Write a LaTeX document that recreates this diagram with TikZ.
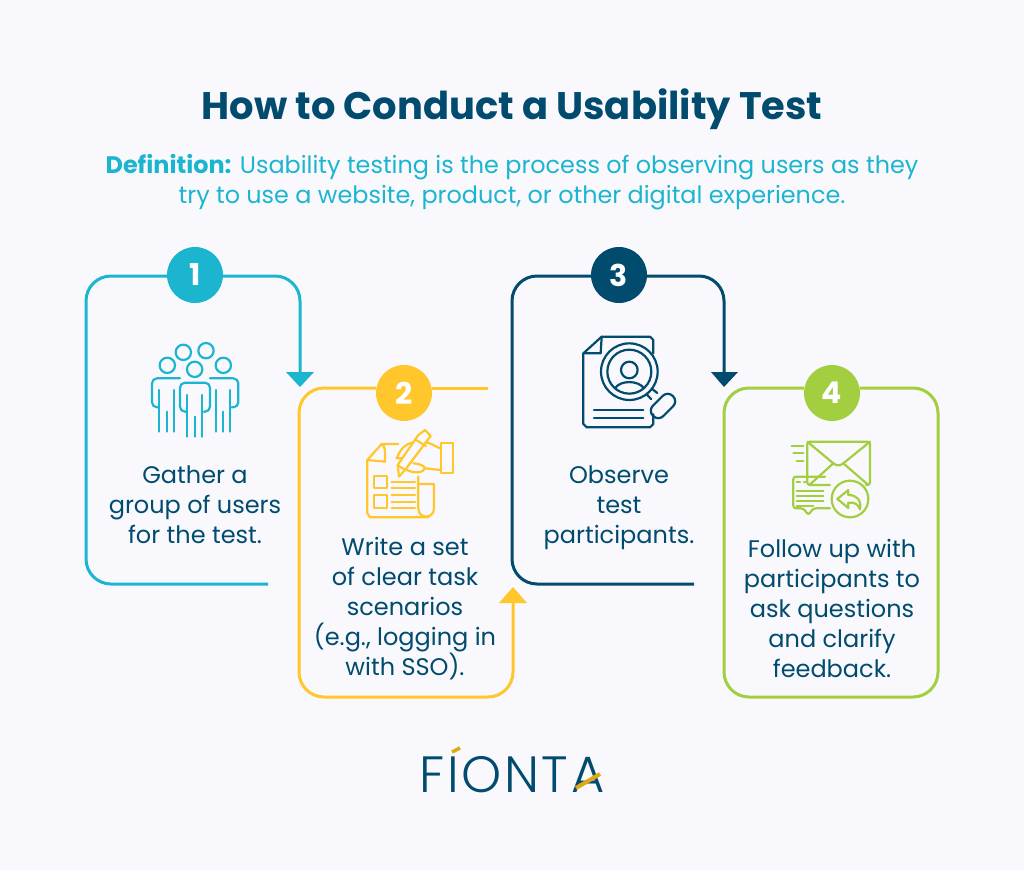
\documentclass[tikz,border=0pt]{standalone}
\usepackage{fontspec}
\setmainfont{Poppins}
\newfontfamily\logofont[LetterSpace=5]{Poppins Light}
\usetikzlibrary{arrows.meta}
\definecolor{bgc}{HTML}{F9F9FD}
\definecolor{cy}{HTML}{1CB5CF}
\definecolor{ye}{HTML}{FFC72C}
\definecolor{na}{HTML}{004B6E}
\definecolor{gr}{HTML}{A2CE3F}
\definecolor{go}{HTML}{E0A914}
\tikzset{
 x=1pt,y=-1pt,
 badge/.style={circle,fill=#1,minimum size=56pt,inner sep=0pt,text=white,font=\fontsize{30}{30}\selectfont\bfseries},
 link/.style={draw=#1,line width=3pt,rounded corners=25pt,line cap=butt},
 tip/.style={fill=#1,draw=none},
 body/.style={font=\fontsize{24}{30}\selectfont,text=na,align=center,inner sep=0pt,anchor=center},
 ico/.style={draw=#1,line width=2.2pt,line cap=round,line join=round},
 zoomgrid/.style={x=0.3333pt,y=-0.3333pt}
}
\begin{document}
\begin{tikzpicture}
\fill[bgc] (0,0) rectangle (1024,870);
\useasboundingbox (0,0) rectangle (1024,870);
\node[font=\fontsize{38.4}{40}\selectfont\bfseries,text=na] (title) at (512,109) {How to Conduct a Usability Test};
\node[font=\fontsize{23.9}{30}\selectfont,text=cy,align=center] (def) at (512,182) {\textbf{Definition:} Usability testing is the process of observing users as they\\try to use a website, product, or other digital experience.};
% badges
\node[badge=cy] (n1) at (195,275) {1};
\node[badge=ye] (n2) at (404,393) {2};
\node[badge=na] (n3) at (619,275) {3};
\node[badge=gr] (n4) at (832,393) {4};
% free ends
\coordinate (e1) at (268,584);
\coordinate (a1) at (300,373);
\coordinate (e2) at (488,388);
\coordinate (a2) at (513,603);
\coordinate (e3) at (694,584);
\coordinate (a3) at (724,373);
% connectors
\draw[link=cy] (n1.west |- 0,276) -- (86,276) -- (86,584) -- (e1);
\draw[link=cy] (n1.east |- 0,276) -- (300,276) -- (a1);
\fill[tip=cy] (286,372) -- (314,372) -- (300,387) -- cycle;
\draw[link=ye] (n2.west |- 0,388) -- (299,388) -- (299,697) -- (513,697) -- (a2);
\draw[link=ye] (n2.east |- 0,388) -- (e2);
\fill[tip=ye] (499,603) -- (527,603) -- (513,587) -- cycle;
\draw[link=na] (n3.west |- 0,276) -- (512,276) -- (512,584) -- (e3);
\draw[link=na] (n3.east |- 0,276) -- (724,276) -- (a3);
\fill[tip=na] (711,372) -- (738,372) -- (724,387) -- cycle;
\draw[link=gr] (n4.west |- 0,388) -- (724,388) -- (724,697) -- (938,697) -- (938,388) -- (n4.east |- 0,388);
% labels
\node[body] (t1) at (195,505) {Gather a\\group of users\\for the test.};
\node[body] (t2) at (405,608.5) {Write a set\\of clear task\\scenarios\\(e.g., logging in\\with SSO).};
\node[body] (t3) at (619,507.5) {Observe\\test\\participants.};
\node[body] (t4) at (832,608) {Follow up with\\participants to\\ask questions\\and clarify\\feedback.};
% icon 1
\begin{scope}[shift={(130,330)},zoomgrid]
\foreach \cx/\cy in {160/67,228/62,112/106,280/106,194/118} \draw[ico=cy] (\cx,\cy) circle[radius=23];
\draw[ico=cy,rounded corners=5pt] (150,145) -- (66,145) -- (66,232) -- (85,232);
\draw[ico=cy,rounded corners=5pt] (240,145) -- (325,145) -- (325,232) -- (305,232);
\draw[ico=cy,rounded corners=5pt] (170,245) -- (150,245) -- (150,158) -- (240,158) -- (240,245) -- (222,245);
\foreach \lx/\ty/\by in {88/180/305,110/245/305,132/180/305,172/195/320,194/260/320,216/195/320,257/180/305,279/245/305,301/180/305}
 \draw[ico=cy] (\lx,\ty) -- (\lx,\by);
\end{scope}
% icon 2
\begin{scope}[shift={(350,420)},zoomgrid]
\draw[ico=ye] (145,72) -- (95,72) -- (52,120) -- (52,280) -- (60,292) -- (235,292);
\draw[ico=ye] (95,72) .. controls (105,78) and (105,85) .. (105,125) -- (52,120);
\draw[ico=ye] (205,170) -- (205,265) .. controls (205,298) and (252,298) .. (252,265) -- (252,192) -- (205,192);
\draw[ico=ye] (72,167) rectangle (110,205);
\draw[ico=ye] (72,225) rectangle (110,265);
\foreach \ly in {185,205,225,245,265} \draw[ico=ye] (125,\ly) -- (195,\ly);
\draw[ico=ye] (272,70) rectangle (310,160);
\draw[ico=ye] (270,85) -- (235,68) -- (190,68) .. controls (165,70) and (150,90) .. (140,115) -- (165,115);
\draw[ico=ye] (272,150) -- (225,145) .. controls (220,160) and (190,160) .. (170,150);
\draw[ico=ye] (190,130) .. controls (210,130) and (225,140) .. (225,145);
\draw[ico=ye,fill=bgc] (205,45) -- (225,30) -- (242,48) -- (165,150) -- (147,170) -- (143,135) -- cycle;
\draw[ico=ye] (195,58) -- (228,78);
\draw[ico=ye] (143,135) -- (165,150);
\end{scope}
% icon 3
\begin{scope}[shift={(570,325)},zoomgrid]
\draw[ico=na] (250,85) -- (250,45) -- (240,35) -- (95,35) -- (40,85) -- (40,297) -- (50,307) -- (240,307) -- (250,297) -- (250,268);
\draw[ico=na] (95,35) -- (92,85) -- (40,85);
\draw[ico=na] (178,140) circle[radius=85];
\draw[ico=na] (178,140) circle[radius=66];
\draw[ico=na] (178,135) circle[radius=25];
\draw[ico=na] (135,190) .. controls (150,165) and (205,165) .. (222,190);
\draw[ico=na] (230,208) -- (243,222);
\draw[ico=na] (246,192) -- (262,204);
\draw[ico=na,rotate around={45:(279,243)},rounded corners=7pt] (237,221) rectangle (321,265);
\foreach \ly in {255,280} \draw[ico=na] (72,\ly) -- (220,\ly);
\end{scope}
% icon 4
\begin{scope}[shift={(780,430)},zoomgrid]
\draw[ico=gr,rounded corners=2.5pt] (150,165) -- (82,165) -- (82,35) -- (270,35) -- (270,165) -- (258,165);
\draw[ico=gr] (82,35) -- (160,100) .. controls (170,108) and (180,108) .. (190,100) -- (270,35);
\draw[ico=gr] (88,165) -- (160,100);
\draw[ico=gr] (265,165) -- (190,100);
\draw[ico=gr] (210,207) circle[radius=55];
\draw[ico=gr] (205,180) -- (172,207) -- (205,234) -- (205,218) .. controls (225,215) and (235,225) .. (240,238) .. controls (245,210) and (230,195) .. (205,195) -- cycle;
\draw[ico=gr,rounded corners=2.5pt] (135,140) -- (40,140) -- (40,235) -- (70,235) -- (85,255) -- (100,235) -- (150,235);
\foreach \ly/\lx in {183/130,198/130,213/130} \draw[ico=gr] (50,\ly) -- (\lx,\ly);
\draw[ico=gr] (50,155) -- (60,155);
\draw[ico=gr] (72,155) -- (80,155);
\draw[ico=gr] (50,227) -- (100,227);
\draw[ico=gr] (35,47) -- (70,47);
\draw[ico=gr] (40,68) -- (70,68);
\draw[ico=gr] (50,92) -- (70,92);
\end{scope}
% logo
\node[font=\fontsize{51}{51}\selectfont\logofont,text=na,inner sep=0pt] (logo) at (512,775) {FIONTA};
\draw[go,line width=3.5pt] (452,752) -- (460,748);
\draw[go,line width=4pt] (576,788) -- (600,774);
\end{tikzpicture}
\end{document}
